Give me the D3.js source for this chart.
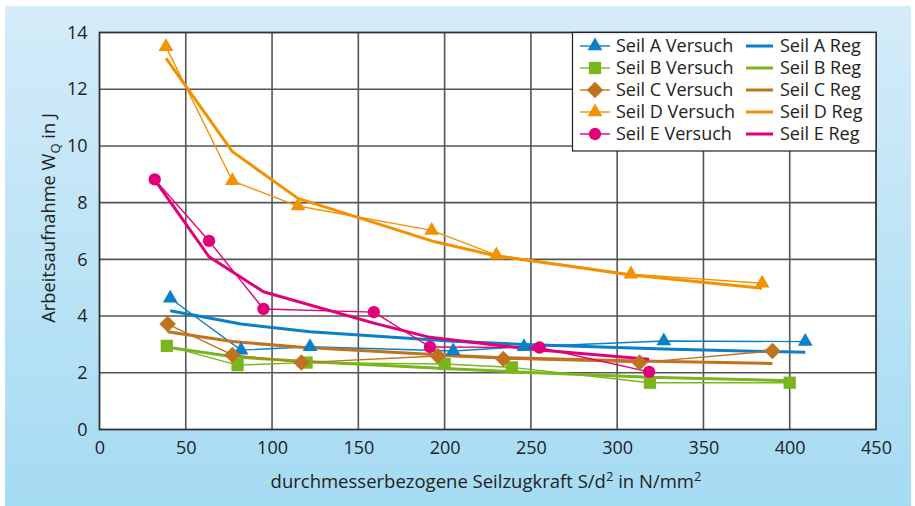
<!DOCTYPE html>
<html><head><meta charset="utf-8">
<script src="https://cdn.jsdelivr.net/npm/d3@7"></script>
<style>html,body{margin:0;padding:0;background:#fff;}svg{display:block;font-family:"Open Sans",sans-serif;}</style>
</head><body><svg id="c" width="915" height="506"></svg>
<script>
// ---- data ----
const xTicks = [0,50,100,150,200,250,300,350,400,450];
const yTicks = [0,2,4,6,8,10,12,14];
const seriesNames = ["Seil A","Seil B","Seil C","Seil D","Seil E"];
const seriesColors = ["#0a80c6","#7ab51d","#c0731e","#f39200","#e2007a"];
const seriesMarkers = ["triangle","square","diamond","triangle","circle"];

const aX = [41,82,122,205,246,327,409];
const aV = [4.63,2.80,2.92,2.77,2.92,3.12,3.10];
const aR = [4.19,3.72,3.45,3.11,3.00,2.84,2.72];

const bX = [39,80,120,200,239,319,400];
const bV = [2.95,2.27,2.36,2.31,2.19,1.65,1.65];
const bR = [2.90,2.55,2.40,2.15,2.04,1.84,1.72];

const cX = [39.5,77,117,196,234,313,390];
const cV = [3.72,2.63,2.36,2.59,2.49,2.36,2.77];
const cR = [3.45,3.10,2.90,2.64,2.53,2.42,2.33];

const dX = [38.5,77,115,192.5,230,308,384];
const dV = [13.5,8.77,7.88,7.02,6.15,5.48,5.16];
const dR = [13.1,9.8,8.15,6.65,6.12,5.45,4.98];

const eX = [32,63.5,95,159,191.5,255,318.5];
const eV = [8.82,6.65,4.25,4.14,2.91,2.89,2.03];
const eR = [8.8,6.09,4.86,3.75,3.25,2.80,2.48];

const allX = [aX,bX,cX,dX,eX];
const allV = [aV,bV,cV,dV,eV];
const allR = [aR,bR,cR,dR,eR];

// ---- drawing ----
const svg = d3.select("#c");
const defs = svg.append("defs");
const grad = defs.append("linearGradient").attr("id","bg").attr("x1",0).attr("y1",0).attr("x2",0).attr("y2",1);
grad.append("stop").attr("offset","0%").attr("stop-color","#d5ecf9");
grad.append("stop").attr("offset","100%").attr("stop-color","#a5dbf3");
svg.append("rect").attr("x",5).attr("y",6).attr("width",906).attr("height",500).attr("fill","url(#bg)");

const x = d3.scaleLinear().domain([0,450]).range([99.5,876]);
const y = d3.scaleLinear().domain([0,14]).range([429.5,32.5]);

svg.append("rect").attr("x",x(0)).attr("y",y(14)).attr("width",x(450)-x(0)).attr("height",y(0)-y(14)).attr("fill","#fff");

// grid
const g = svg.append("g");
g.selectAll("line.vx").data(xTicks.slice(1,-1)).join("line")
  .attr("x1",d=>x(d)).attr("x2",d=>x(d)).attr("y1",y(14)).attr("y2",y(0))
  .attr("stroke","#555").attr("stroke-width",1.6);
g.selectAll("line.hy").data(yTicks.slice(1,-1)).join("line")
  .attr("x1",x(0)).attr("x2",x(450)).attr("y1",d=>y(d)).attr("y2",d=>y(d))
  .attr("stroke","#555").attr("stroke-width",1.6);

// axes (ticks labels)
const xAxis = d3.axisBottom(x).tickValues(xTicks).tickSize(0).tickPadding(12);
const xa = svg.append("g").attr("transform",`translate(0,${y(0)})`).call(xAxis);
xa.select(".domain").remove();
xa.selectAll("text").attr("font-size",18).attr("fill","#222").attr("font-family","Open Sans");

const yAxis = d3.axisLeft(y).tickValues(yTicks).tickSize(0).tickPadding(12);
const ya = svg.append("g").attr("transform",`translate(${x(0)},0)`).call(yAxis);
ya.select(".domain").remove();
ya.selectAll("text").attr("font-size",18).attr("fill","#222").attr("font-family","Open Sans");

// border
svg.append("rect").attr("x",x(0)).attr("y",y(14)).attr("width",x(450)-x(0)).attr("height",y(0)-y(14))
  .attr("fill","none").attr("stroke","#333").attr("stroke-width",1.8);

// axis titles
svg.append("text").attr("x",486).attr("y",488).attr("text-anchor","middle")
  .attr("font-size",18.5).attr("fill","#222")
  .html('durchmesserbezogene Seilzugkraft S/d<tspan dy="-7" font-size="13">2</tspan><tspan dy="7"> in N/mm</tspan><tspan dy="-7" font-size="13">2</tspan>');
svg.append("text").attr("transform","translate(55,218) rotate(-90)").attr("text-anchor","middle")
  .attr("font-size",18.3).attr("fill","#222")
  .html('Arbeitsaufnahme W<tspan dy="5" font-size="13">Q</tspan><tspan dy="-5"> in J</tspan>');

// lines
const line = d3.line().x(d=>x(d[0])).y(d=>y(d[1]));
const plot = svg.append("g");
seriesNames.forEach((n,i)=>{
  const pts = allX[i].map((xx,j)=>[xx,allV[i][j]]);
  const reg = allX[i].map((xx,j)=>[xx,allR[i][j]]);
  plot.append("path").attr("d",line(pts)).attr("fill","none").attr("stroke",seriesColors[i]).attr("stroke-width",1.4).attr("stroke-linejoin","round");
  plot.append("path").attr("d",line(reg)).attr("fill","none").attr("stroke",seriesColors[i]).attr("stroke-width",3).attr("stroke-linejoin","round");
});
const symMap = {triangle:d3.symbolTriangle, square:d3.symbolSquare, diamond:d3.symbolSquare, circle:d3.symbolCircle};
const symSize = {triangle:95, square:150, diamond:135, circle:120};
function marker(sel, type, color){
  sel.attr("d", d3.symbol().type(symMap[type]).size(symSize[type])()).attr("fill",color);
}
function place(type){ return type==="diamond" ? " rotate(45)" : ""; }
seriesNames.forEach((n,i)=>{
  const pts = allX[i].map((xx,j)=>[xx,allV[i][j]]);
  plot.selectAll(null).data(pts).join("path")
    .attr("transform",d=>`translate(${x(d[0])},${y(d[1])})`+place(seriesMarkers[i]))
    .call(marker, seriesMarkers[i], seriesColors[i]);
});

// legend
const lg = svg.append("g");
lg.append("rect").attr("x",572.5).attr("y",y(14)).attr("width",x(450)-572.5).attr("height",151-y(14))
  .attr("fill","#fff").attr("stroke","#222").attr("stroke-width",1.2);
seriesNames.forEach((n,i)=>{
  const cy = 46 + i*22;
  lg.append("line").attr("x1",580).attr("x2",610).attr("y1",cy).attr("y2",cy).attr("stroke",seriesColors[i]).attr("stroke-width",1.4);
  lg.append("path").attr("transform",`translate(595,${cy})`+place(seriesMarkers[i])).call(marker, seriesMarkers[i], seriesColors[i]);
  lg.append("text").attr("x",616).attr("y",cy).attr("dy","0.36em").attr("font-size",18).attr("fill","#222").text(n+" Versuch");
  lg.append("line").attr("x1",746).attr("x2",773).attr("y1",cy).attr("y2",cy).attr("stroke",seriesColors[i]).attr("stroke-width",3);
  lg.append("text").attr("x",780).attr("y",cy).attr("dy","0.36em").attr("font-size",18).attr("fill","#222").text(n+" Reg");
});
</script></body></html>
